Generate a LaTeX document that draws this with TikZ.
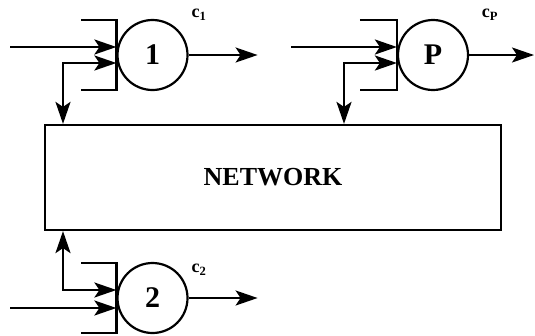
\documentclass[tikz,border=0pt]{standalone}
\usepackage{fontspec}
\setmainfont{Liberation Serif}
\usetikzlibrary{arrows.meta,calc}
\tikzset{
 proc/.style={draw,circle,line width=2.2pt,minimum size=70pt,inner sep=0pt,font=\bfseries\fontsize{30}{30}\selectfont},
 netbox/.style={draw,rectangle,line width=2.2pt,minimum width=456pt,minimum height=105pt,font=\bfseries\fontsize{26}{26}\selectfont},
 lab/.style={font=\bfseries\fontsize{18}{18}\selectfont},
 ln/.style={line width=2.2pt},
 arr/.style={ln,-{Stealth[length=22pt,width=15pt,inset=5pt]}},
 darr/.style={ln,{Stealth[length=22pt,width=15pt,inset=5pt]}-{Stealth[length=22pt,width=15pt,inset=5pt]}}
}
\begin{document}
\begin{tikzpicture}[x=1pt,y=-1pt]
\useasboundingbox (0,0) rectangle (535,335);
\node[netbox] (N) at (273,177.5) {NETWORK};
% node 1
\node[proc] (P1) at (152.5,55) {1};
\draw[ln] ($(P1.west)+(-35,-35)$) -- ($(P1.west)+(0,-35)$) -- ($(P1.west)+(0,35)$) -- ($(P1.west)+(-35,35)$);
\coordinate (i1) at (10,47);
\coordinate (f1) at (63,63);
\draw[arr] (i1) -- (i1 -| P1.west);
\draw[darr] (f1 |- N.north) -- (f1) -- (P1.west |- f1);
\draw[arr] (P1.east) -- ++(69,0);
\node[lab] (c1) at (199,15) {c\textsubscript{1}};
% node P
\node[proc] (PP) at (433,55) {P};
\draw[ln] ($(PP.west)+(-37,-35)$) -- ($(PP.west)+(0,-35)$) -- ($(PP.west)+(0,35)$) -- ($(PP.west)+(-37,35)$);
\coordinate (iP) at (291,47);
\coordinate (fP) at (344,63);
\draw[arr] (iP) -- (iP -| PP.west);
\draw[darr] (fP |- N.north) -- (fP) -- (PP.west |- fP);
\draw[arr] (PP.east) -- (534,55);
\node[lab] (cP) at (490,15) {c\textsubscript{P}};
% node 2
\node[proc] (P2) at (152.5,298) {2};
\draw[ln] ($(P2.west)+(-35,-35)$) -- ($(P2.west)+(0,-35)$) -- ($(P2.west)+(0,35)$) -- ($(P2.west)+(-35,35)$);
\coordinate (i2) at (10,308);
\coordinate (f2) at (63,290);
\draw[arr] (i2) -- (i2 -| P2.west);
\draw[darr] (f2 |- N.south) -- (f2) -- (P2.west |- f2);
\draw[arr] (P2.east) -- ++(69,0);
\node[lab] (c2) at (199,270) {c\textsubscript{2}};
\end{tikzpicture}
\end{document}
